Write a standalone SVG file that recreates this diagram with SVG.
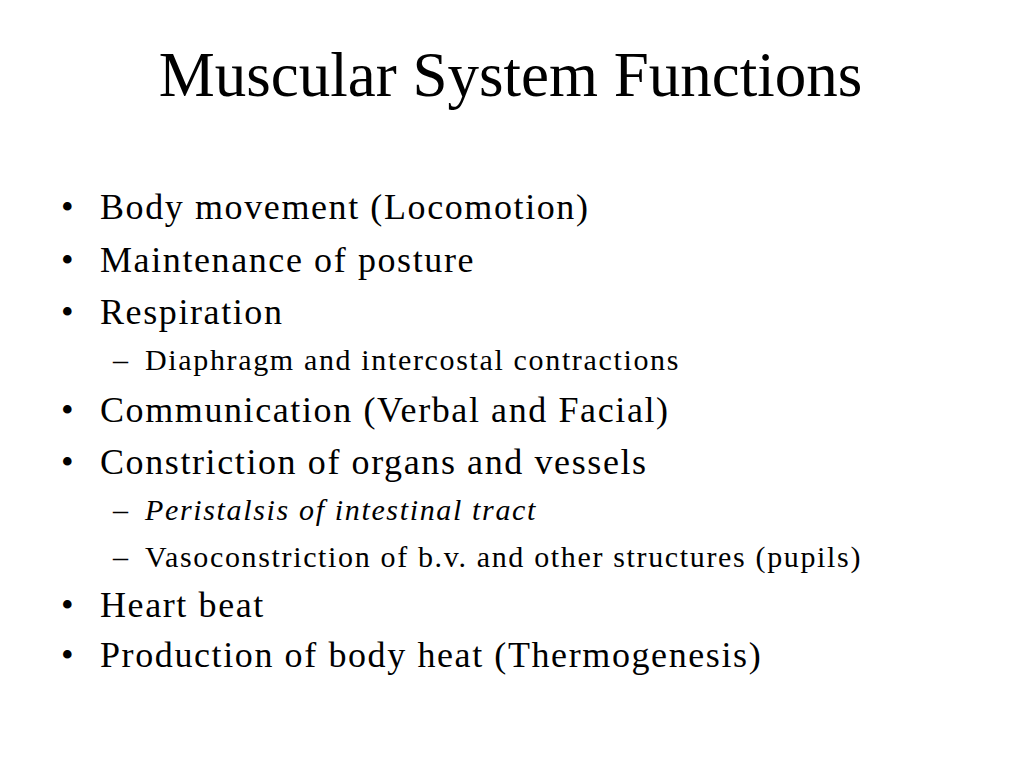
<svg xmlns="http://www.w3.org/2000/svg" width="1024" height="768" viewBox="0 0 1024 768">
<style>
text{font-family:"Liberation Serif","Times New Roman",serif;fill:#000}
.t{font-size:63px}
.b{font-size:36px;letter-spacing:1.6px}
.s{font-size:30px;letter-spacing:1.65px}
</style>
<rect width="1024" height="768" fill="#fff"/>
<g id="title"><text class="t" x="510.5" y="96" text-anchor="middle">Muscular System Functions</text></g>
<g id="bullets">
<text class="b" x="61" y="219">•</text><text class="b" x="100" y="219">Body movement (Locomotion)</text>
<text class="b" x="61" y="272">•</text><text class="b" x="100" y="272">Maintenance of posture</text>
<text class="b" x="61" y="324">•</text><text class="b" x="100" y="324">Respiration</text>
<text class="s" x="113" y="370">–</text><text class="s" x="145" y="370">Diaphragm and intercostal contractions</text>
<text class="b" x="61" y="422">•</text><text class="b" x="100" y="422">Communication (Verbal and Facial)</text>
<text class="b" x="61" y="474">•</text><text class="b" x="100" y="474">Constriction of organs and vessels</text>
<text class="s" x="113" y="520">–</text><text class="s" x="145" y="520" font-style="italic">Peristalsis of intestinal tract</text>
<text class="s" x="113" y="567">–</text><text class="s" x="145" y="567">Vasoconstriction of b.v. and other structures (pupils)</text>
<text class="b" x="61" y="617">•</text><text class="b" x="100" y="617">Heart beat</text>
<text class="b" x="61" y="667">•</text><text class="b" x="100" y="667">Production of body heat (Thermogenesis)</text>
</g>
</svg>
